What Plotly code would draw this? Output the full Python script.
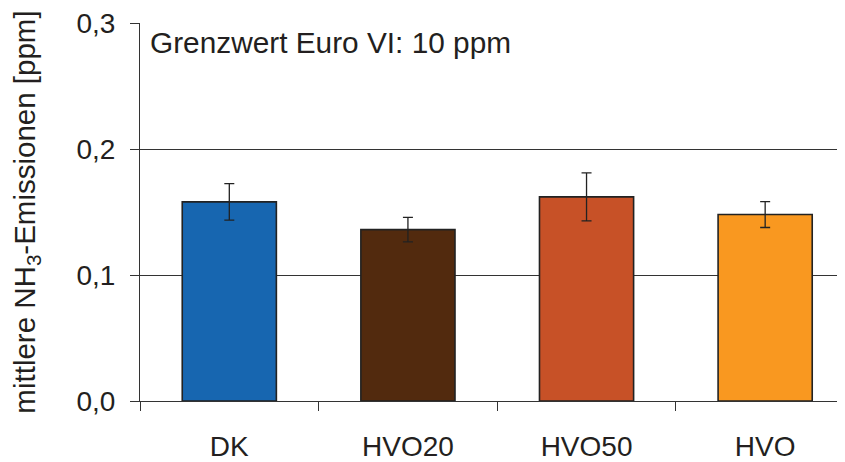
import plotly.graph_objects as go

categories = ["DK", "HVO20", "HVO50", "HVO"]
values = [0.158, 0.136, 0.162, 0.148]
errors = [0.0145, 0.0097, 0.019, 0.0103]
colors = ["#1766B0", "#522A0E", "#C75127", "#F99820"]
y_ticks = [0.0, 0.1, 0.2, 0.3]
note = "Grenzwert Euro VI: 10 ppm"

FONT = "Liberation Sans, Arial, Helvetica, sans-serif"
INK = "#231f20"

fig = go.Figure()
fig.add_trace(go.Bar(
    x=list(range(len(categories))),
    y=values,
    width=0.527,
    marker=dict(color=colors, line=dict(color="#222222", width=1.6)),
    error_y=dict(type="data", array=errors, visible=True,
                 color="#222222", thickness=1.3, width=5),
))

fig.add_annotation(
    text=note, xref="paper", yref="paper", x=0.0, y=0.948,
    xshift=8,
    xanchor="left", yanchor="middle", showarrow=False,
    font=dict(family=FONT, size=29.8, color=INK),
)

fig.update_layout(
    width=837, height=454,
    margin=dict(l=132, r=0, t=10, b=60),
    paper_bgcolor="white", plot_bgcolor="white",
    separators=",.",
    showlegend=False,
    font=dict(family=FONT, size=28, color=INK),
    xaxis=dict(
        range=[-0.5, 3.447],
        tickmode="array", tickvals=list(range(len(categories))), ticktext=categories,
        showline=True, linecolor="#333333", linewidth=1,
        ticks="", showgrid=False, zeroline=False,
        tickfont=dict(family=FONT, size=28, color=INK),
        ticklabelstandoff=20,
        ticklabeloverflow="allow",
        minor=dict(tickmode="array", tickvals=[-0.5, 0.5, 1.5, 2.5],
                   ticks="outside", ticklen=9, tickcolor="#333333", tickwidth=1),
    ),
    yaxis=dict(
        range=[0, 0.3],
        tickmode="array", tickvals=y_ticks, tickformat=".1f",
        showline=True, linecolor="#333333", linewidth=1,
        ticks="outside", ticklen=9, tickcolor="#333333", tickwidth=1,
        showgrid=True, gridcolor="#333333", gridwidth=1,
        zeroline=False,
        tickfont=dict(family=FONT, size=28, color=INK),
        ticklabelstandoff=9,
        ticklabeloverflow="allow",
        title=dict(text="mittlere NH<sub>3</sub>-Emissionen [ppm]",
                   font=dict(family=FONT, size=29.5, color=INK), standoff=36),
    ),
)

fig.write_html("out.html")
